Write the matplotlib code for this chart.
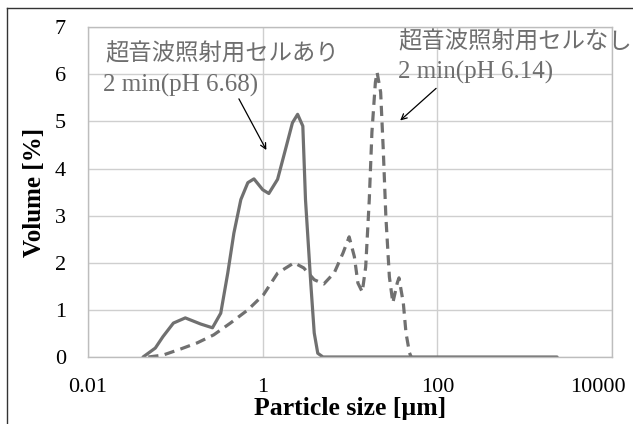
import matplotlib
matplotlib.use("Agg")
import matplotlib.pyplot as plt
from matplotlib.lines import Line2D
from matplotlib.transforms import ScaledTranslation

# ------------------------------------------------------
# data (particle size in um, volume in %)
# ------------------------------------------------------
size_with_cell = [0.0427, 0.059, 0.072, 0.095, 0.130, 0.195, 0.266, 0.331, 0.398,
                  0.468, 0.562, 0.676, 0.794, 1.0, 1.175, 1.48, 1.82, 2.19, 2.51,
                  2.88, 3.09, 3.55, 3.89, 4.27, 4.90, 2344]
vol_with_cell = [0.0, 0.19, 0.43, 0.72, 0.83, 0.70, 0.62, 0.93, 1.78,
                 2.63, 3.34, 3.70, 3.78, 3.55, 3.47, 3.77, 4.40, 4.97, 5.15,
                 4.90, 3.34, 1.57, 0.51, 0.08, 0.0, 0.0]

size_no_cell = [0.049, 0.072, 0.115, 0.178, 0.275, 0.427, 0.676, 1.02, 1.48,
                2.29, 2.95, 3.89, 5.01, 6.61, 8.32, 9.77, 11.2, 12.3, 13.8,
                15.1, 16.6, 17.8, 19.5, 20.4, 22.4, 24.0, 25.7, 28.2, 30.9,
                34.7, 36.3, 40.7, 43.7, 47.9, 50.1]
vol_no_cell = [0.0, 0.04, 0.17, 0.30, 0.47, 0.72, 1.0, 1.32, 1.78,
               2.0, 1.89, 1.64, 1.55, 1.79, 2.21, 2.55, 2.13, 1.57, 1.38,
               1.91, 3.34, 4.77, 5.83, 6.04, 5.62, 4.40, 2.98, 1.70, 1.15,
               1.57, 1.68, 1.15, 0.51, 0.09, 0.0]

x_ticks = [0.01, 1, 100, 10000]
x_ticklabels = ["0.01", "1", "100", "10000"]
y_ticks = [0, 1, 2, 3, 4, 5, 6, 7]

label_with = "超音波照射用セルあり"
label_with_ph = "2 min(pH 6.68)"
label_no = "超音波照射用セルなし"
label_no_ph = "2 min(pH 6.14)"

# ------------------------------------------------------
# figure
# ------------------------------------------------------
plt.rcParams["font.family"] = ["Liberation Serif", "DejaVu Serif"]
line_col = "#707070"
text_col = "#6e6e6e"
jp_font = ["Noto Sans CJK JP", "DejaVu Sans"]

fig = plt.figure(figsize=(6.33, 4.24), dpi=100)
ax = fig.add_axes([0.139, 0.158, 0.828, 0.778])

ax.plot(size_with_cell, vol_with_cell, color=line_col, lw=2.3,
        solid_joinstyle="round", solid_capstyle="round")
ax.plot(size_no_cell, vol_no_cell, color=line_col, lw=2.3,
        linestyle=(0, (3.2, 2.0)))

ax.set_xscale("log")
ax.set_xlim(0.01, 10000)
ax.set_ylim(0, 7)
ax.set_xticks(x_ticks)
ax.set_xticklabels(x_ticklabels)
ax.minorticks_off()
ax.set_yticks(y_ticks)
ax.tick_params(length=0, labelsize=16)
ax.tick_params(axis="y", pad=16)
ax.tick_params(axis="x", pad=15)

# last x label sits pulled in from the edge, like the original
last = ax.get_xticklabels()[-1]
last.set_transform(last.get_transform() + ScaledTranslation(-14 / 100, 0, fig.dpi_scale_trans))

ax.grid(True, color="#cfcfcf", lw=1.0)
ax.set_axisbelow(True)
for sp in ax.spines.values():
    sp.set_color("#bdbdbd")
    sp.set_linewidth(1.0)

ax.set_xlabel("Particle size [µm]", fontsize=18.5, fontweight="bold", labelpad=0)
ax.set_ylabel("Volume [%]", fontsize=18, fontweight="bold", labelpad=6)

# annotations
ax.text(0.0158, 6.43, label_with, family=jp_font, fontsize=16.8, color=text_col,
        va="center", ha="left")
ax.text(0.0149, 5.77, label_with_ph, fontsize=18, color=text_col,
        va="center", ha="left")
ax.annotate("", xy=(1.14, 4.34), xytext=(0.516, 5.53),
            arrowprops=dict(arrowstyle="->", color="black", lw=0.9))

ax.text(35.5, 6.68, label_no, family=jp_font, fontsize=16.8, color=text_col,
        va="center", ha="left", clip_on=False)
ax.text(35.5, 6.04, label_no_ph, fontsize=18, color=text_col,
        va="center", ha="left")
ax.annotate("", xy=(35.5, 4.98), xytext=(102, 5.74),
            arrowprops=dict(arrowstyle="->", color="black", lw=0.9))

# outer frame (left and top edges)
fig.add_artist(Line2D([7 / 633, 7 / 633], [0, 1 - 8 / 424], color="#333333", lw=1.0))
fig.add_artist(Line2D([7 / 633, 1], [1 - 8 / 424, 1 - 8 / 424], color="#333333", lw=1.0))

fig.savefig("out.png", dpi=100)
